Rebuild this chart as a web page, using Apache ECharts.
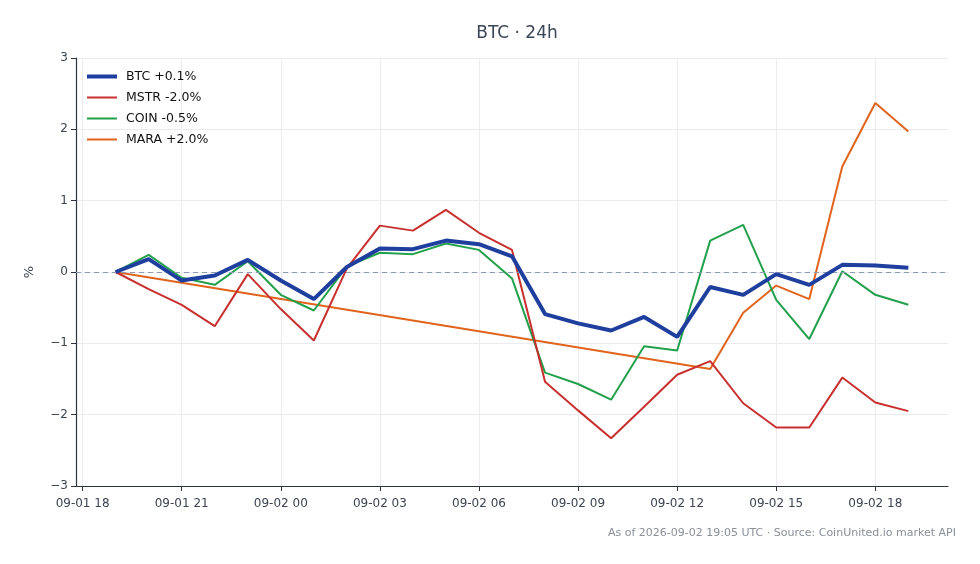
<!DOCTYPE html>
<html>
<head>
<meta charset="utf-8">
<script src="https://cdn.jsdelivr.net/npm/echarts@6/dist/echarts.min.js"></script>
<style>
  html, body { margin: 0; padding: 0; background: #fff; }
  #chart { width: 980px; height: 564px; }
</style>
</head>
<body>
<div id="chart"></div>
<script>
// hours counted from 2026-09-01 00:00 UTC
var hours = [19, 20, 21, 22, 23, 24, 25, 26, 27, 28, 29, 30, 31,
             32, 33, 34, 35, 36, 37, 38, 39, 40, 41, 42, 43];
var btc  = [0, 0.18, -0.12, -0.05, 0.17, -0.12, -0.38, 0.07, 0.33, 0.32, 0.44, 0.39, 0.22,
            -0.59, -0.72, -0.82, -0.63, -0.91, -0.21, -0.32, -0.03, -0.18, 0.10, 0.09, 0.06];
var mstr = [0, -0.24, -0.46, -0.76, -0.03, -0.52, -0.96, 0.05, 0.65, 0.58, 0.87, 0.55, 0.31,
            -1.54, -1.94, -2.33, -1.89, -1.44, -1.25, -1.84, -2.18, -2.18, -1.48, -1.83, -1.95];
var coin = [0, 0.24, -0.08, -0.18, 0.15, -0.32, -0.54, 0.08, 0.27, 0.25, 0.40, 0.31, -0.09,
            -1.41, -1.57, -1.79, -1.04, -1.10, 0.44, 0.66, -0.39, -0.94, 0.01, -0.32, -0.46];
// MARA only has quotes at these hours
var maraHours = [19, 37, 38, 39, 40, 41, 42, 43];
var mara = [0, -1.36, -0.57, -0.19, -0.38, 1.48, 2.37, 1.97];
var xTicks = [18, 21, 24, 27, 30, 33, 36, 39, 42];

function pairs(xs, ys) {
    return xs.map(function (x, i) { return [x, ys[i]]; });
}

function hourLabel(h) {
    var day = h >= 24 ? '02' : '01';
    var hh = h % 24;
    return '09-' + day + ' ' + (hh < 10 ? '0' + hh : hh);
}

var tickFont = { fontFamily: 'DejaVu Sans', fontSize: 12, color: '#3d4451' };
var thick = 'path://M0 0H30V4H0Z';
var thin = 'path://M0 0H30V2H0Z';

var myChart = echarts.init(document.getElementById('chart'));

var option = {
    animation: false,
    backgroundColor: '#fff',
    title: {
        text: 'BTC · 24h',
        left: 512,
        top: 20,
        textAlign: 'center',
        textStyle: { fontFamily: 'DejaVu Sans', fontSize: 17, fontWeight: 'normal', color: '#3a4556' }
    },
    legend: {
        orient: 'vertical',
        left: 84,
        top: 65,
        itemWidth: 30,
        itemHeight: 10,
        itemGap: 8,
        padding: [5, 5, 5, 3],
        textStyle: { fontFamily: 'DejaVu Sans', fontSize: 12.5, color: '#111', padding: [0, 0, 0, 4] },
        data: [
            { name: 'BTC +0.1%', icon: thick },
            { name: 'MSTR -2.0%', icon: thin },
            { name: 'COIN -0.5%', icon: thin },
            { name: 'MARA +2.0%', icon: thin }
        ]
    },
    grid: { left: 76, right: 32, top: 58, bottom: 78 },
    xAxis: {
        type: 'value',
        min: 17.8,
        max: 44.2,
        axisLine: { onZero: false, lineStyle: { color: '#2e3440', width: 1.2 } },
        axisTick: { customValues: xTicks, length: 5, lineStyle: { color: '#2e3440' } },
        axisLabel: Object.assign({
            customValues: xTicks,
            margin: 12,
            formatter: function (v) { return hourLabel(v); }
        }, tickFont),
        splitLine: { show: true, lineStyle: { color: '#ececf0', width: 1 } }
    },
    yAxis: {
        type: 'value',
        min: -3,
        max: 3,
        interval: 1,
        name: '%',
        nameLocation: 'middle',
        nameGap: 40,
        nameRotate: 90,
        nameTextStyle: { fontFamily: 'DejaVu Sans', fontSize: 13, color: '#3d4451' },
        axisLine: { show: true, lineStyle: { color: '#2e3440', width: 1.2 } },
        axisTick: { show: true, length: 5, lineStyle: { color: '#2e3440' } },
        axisLabel: Object.assign({
            margin: 8,
            formatter: function (v) { return String(v).replace('-', '\u2212'); }
        }, tickFont),
        splitLine: { show: true, lineStyle: { color: '#ececf0', width: 1 } }
    },
    graphic: [{
        type: 'text',
        right: 24,
        top: 528,
        style: {
            text: 'As of 2026-09-02 19:05 UTC · Source: CoinUnited.io market API',
            fontFamily: 'DejaVu Sans',
            fontSize: 11,
            fill: '#8a8f98'
        }
    }],
    series: [
        {
            name: 'BTC +0.1%', type: 'line', data: pairs(hours, btc),
            showSymbol: false, symbol: 'none', z: 5,
            color: '#1f3f9f', lineStyle: { width: 4, color: '#1f3f9f' },
            markLine: {
                silent: true, symbol: 'none', label: { show: false },
                lineStyle: { type: [5, 4], color: '#8d9bb0', width: 1 },
                data: [{ yAxis: 0 }]
            }
        },
        {
            name: 'MSTR -2.0%', type: 'line', data: pairs(hours, mstr),
            showSymbol: false, symbol: 'none', z: 4,
            color: '#c8302f', lineStyle: { width: 2, color: '#c8302f' }
        },
        {
            name: 'COIN -0.5%', type: 'line', data: pairs(hours, coin),
            showSymbol: false, symbol: 'none', z: 3,
            color: '#22a04b', lineStyle: { width: 2, color: '#22a04b' }
        },
        {
            name: 'MARA +2.0%', type: 'line', data: pairs(maraHours, mara),
            showSymbol: false, symbol: 'none', z: 2,
            color: '#e0641c', lineStyle: { width: 2, color: '#e0641c' }
        }
    ]
};

myChart.setOption(option);
</script>
</body>
</html>
